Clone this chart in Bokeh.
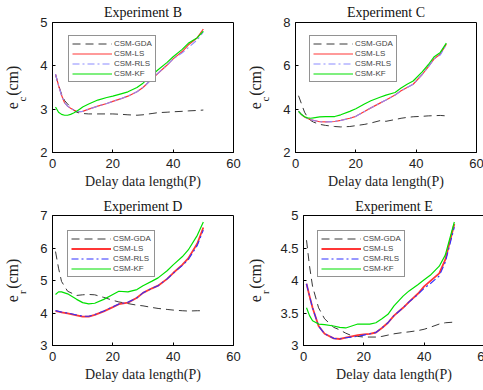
from bokeh.plotting import figure
from bokeh.layouts import row, column
from bokeh.models import Legend, LegendItem, Range1d, FixedTicker, LinearAxis, Title
from bokeh.embed import file_html
from bokeh.resources import INLINE

SERIES = ["CSM-GDA", "CSM-LS", "CSM-RLS", "CSM-KF"]
X_TICKS = [0, 20, 40, 60]
X_LABEL = "Delay data length(P)"

# Experiment B
P_B = [1, 2, 3, 4, 5, 6, 7, 8, 9, 10, 12, 15, 18, 20, 23, 25, 28, 30, 33, 35, 38, 40, 43, 45, 48, 50]
GDA_B = [3.80, 3.55, 3.35, 3.20, 3.12, 3.05, 2.98, 2.93, 2.91, 2.90, 2.89, 2.89, 2.89, 2.89, 2.88, 2.87, 2.86, 2.87, 2.90, 2.92, 2.93, 2.94, 2.95, 2.96, 2.97, 2.98]
LS_B = [3.81, 3.55, 3.32, 3.15, 3.07, 3.02, 2.98, 2.95, 2.94, 2.95, 3.00, 3.07, 3.13, 3.18, 3.25, 3.30, 3.40, 3.50, 3.70, 3.83, 4.02, 4.16, 4.33, 4.48, 4.65, 4.85]
RLS_B = [3.81, 3.55, 3.32, 3.15, 3.07, 3.02, 2.98, 2.95, 2.94, 2.95, 3.00, 3.07, 3.13, 3.18, 3.25, 3.30, 3.40, 3.50, 3.70, 3.83, 4.02, 4.16, 4.30, 4.42, 4.60, 4.78]
KF_B = [3.05, 2.93, 2.88, 2.86, 2.86, 2.88, 2.91, 2.95, 3.00, 3.05, 3.12, 3.21, 3.27, 3.30, 3.36, 3.40, 3.50, 3.60, 3.79, 3.91, 4.08, 4.21, 4.38, 4.52, 4.65, 4.80]

# Experiment C
P_C = [1, 2, 3, 4, 5, 6, 8, 10, 13, 15, 18, 20, 23, 25, 28, 30, 33, 35, 37, 39, 42, 44, 46, 48, 50]
GDA_C = [4.62, 4.24, 3.86, 3.62, 3.48, 3.40, 3.30, 3.25, 3.20, 3.18, 3.20, 3.24, 3.30, 3.36, 3.47, 3.44, 3.52, 3.58, 3.62, 3.65, 3.67, 3.69, 3.70, 3.71, 3.69]
LS_C = [3.91, 3.75, 3.64, 3.57, 3.52, 3.48, 3.42, 3.41, 3.43, 3.48, 3.58, 3.67, 3.90, 4.06, 4.28, 4.42, 4.65, 4.85, 5.00, 5.15, 5.60, 5.95, 6.33, 6.55, 7.00]
RLS_C = [3.91, 3.75, 3.64, 3.57, 3.52, 3.48, 3.42, 3.41, 3.43, 3.48, 3.58, 3.67, 3.90, 4.06, 4.28, 4.42, 4.65, 4.85, 5.00, 5.15, 5.60, 5.95, 6.33, 6.50, 6.98]
KF_C = [3.90, 3.75, 3.65, 3.60, 3.58, 3.60, 3.64, 3.66, 3.66, 3.74, 3.90, 4.02, 4.25, 4.39, 4.55, 4.65, 4.77, 4.98, 5.15, 5.30, 5.72, 6.05, 6.42, 6.62, 7.05]

# Experiment D
P_D = [1, 2, 3, 5, 8, 10, 12, 14, 17, 20, 22, 25, 28, 30, 33, 35, 38, 40, 43, 45, 48, 50]
GDA_D = [5.89, 5.38, 4.97, 4.67, 4.54, 4.56, 4.57, 4.56, 4.48, 4.39, 4.34, 4.29, 4.24, 4.22, 4.17, 4.14, 4.11, 4.09, 4.07, 4.06, 4.07, 4.07]
LS_D = [4.06, 4.04, 4.02, 3.99, 3.93, 3.89, 3.89, 3.94, 4.05, 4.18, 4.27, 4.32, 4.47, 4.62, 4.76, 4.84, 5.05, 5.23, 5.48, 5.68, 6.14, 6.63]
RLS_D = [4.08, 4.05, 4.03, 4.00, 3.94, 3.90, 3.90, 3.95, 4.06, 4.19, 4.28, 4.33, 4.47, 4.62, 4.76, 4.84, 5.05, 5.22, 5.46, 5.64, 6.08, 6.55]
KF_D = [4.57, 4.65, 4.65, 4.59, 4.42, 4.32, 4.28, 4.30, 4.42, 4.57, 4.67, 4.65, 4.72, 4.84, 4.98, 5.08, 5.30, 5.48, 5.73, 5.94, 6.39, 6.80]

# Experiment E
P_E = [1, 2, 3, 5, 7, 10, 12, 14, 16, 18, 20, 22, 24, 26, 28, 30, 33, 35, 38, 40, 42, 45, 47, 50]
GDA_E = [4.62, 4.22, 3.91, 3.58, 3.41, 3.28, 3.24, 3.19, 3.15, 3.14, 3.13, 3.13, 3.13, 3.14, 3.16, 3.18, 3.20, 3.21, 3.23, 3.25, 3.28, 3.33, 3.35, 3.36]
LS_E = [3.95, 3.76, 3.58, 3.30, 3.18, 3.11, 3.10, 3.12, 3.14, 3.16, 3.17, 3.18, 3.20, 3.27, 3.35, 3.46, 3.58, 3.67, 3.80, 3.91, 3.99, 4.11, 4.32, 4.87]
RLS_E = [3.95, 3.76, 3.58, 3.30, 3.18, 3.11, 3.10, 3.12, 3.13, 3.14, 3.16, 3.18, 3.20, 3.27, 3.35, 3.46, 3.58, 3.67, 3.79, 3.88, 3.95, 4.07, 4.28, 4.82]
KF_E = [3.58, 3.46, 3.38, 3.33, 3.32, 3.30, 3.28, 3.27, 3.30, 3.33, 3.33, 3.33, 3.35, 3.41, 3.48, 3.61, 3.76, 3.84, 3.94, 4.01, 4.08, 4.22, 4.39, 4.90]

SERIF = "Liberation Serif"
SANS = "Liberation Sans"
FRAME_W, FRAME_H = 181, 130


def panel(title, sub, x, gda, ls, rls, kf, y0, y1, yticks, ylabels, bl, br,
          bt, bb, title_standoff, sub_standoff, rls_color, ls_width, leg_x, leg_top):
    ttl = Title(text=title, text_font=SERIF, text_font_size="14px",
                text_font_style="normal", text_color="#111111",
                align="center", standoff=title_standoff)
    p = figure(frame_width=FRAME_W, frame_height=FRAME_H, title=ttl,
               x_range=Range1d(0, 60), y_range=Range1d(y0, y1),
               output_backend="svg", toolbar_location=None,
               min_border_left=bl, min_border_right=br,
               min_border_top=bt, min_border_bottom=bb)
    p.grid.visible = False
    p.outline_line_color = "black"
    p.outline_line_width = 1
    p.outline_line_alpha = 1
    p.background_fill_color = "white"
    p.border_fill_color = "white"

    for ax in (p.xaxis[0], p.yaxis[0]):
        ax.major_tick_in = 3
        ax.major_tick_out = 0
        ax.minor_tick_line_color = None
        ax.axis_line_color = "black"
        ax.major_tick_line_color = "black"
        ax.major_label_text_font = SANS
        ax.major_label_text_font_size = "13px"
        ax.major_label_text_color = "#222222"
    xa = p.xaxis[0]
    xa.ticker = FixedTicker(ticks=X_TICKS)
    xa.major_label_standoff = 6
    xa.axis_label = X_LABEL
    xa.axis_label_text_font = SERIF
    xa.axis_label_text_font_size = "14px"
    xa.axis_label_text_font_style = "normal"
    xa.axis_label_text_color = "#222222"
    xa.axis_label_standoff = 3
    ya = p.yaxis[0]
    ya.ticker = FixedTicker(ticks=yticks)
    ya.major_label_overrides = {t: l for t, l in zip(yticks, ylabels)}
    ya.major_label_standoff = 5

    # y label e_sub(cm): subscript drawn as the single tick label of an extra axis
    yc = round(y0 + (y1 - y0) * (0.5 - 11.6 / FRAME_H), 4)
    la = LinearAxis(ticker=FixedTicker(ticks=[yc]),
                    major_label_overrides={yc: sub},
                    major_label_orientation="vertical",
                    major_label_text_font=SERIF, major_label_text_font_size="11px",
                    major_label_text_color="#222222",
                    major_label_standoff=sub_standoff,
                    major_tick_line_color=None, minor_tick_line_color=None,
                    axis_line_color=None,
                    axis_label="e\u2009\u2009(cm)", axis_label_text_font=SERIF,
                    axis_label_text_font_size="16px", axis_label_text_font_style="normal",
                    axis_label_text_color="#222222", axis_label_standoff=-7)
    p.add_layout(la, "left")

    r_gda = p.line(x, gda, line_color="#383838", line_width=1, line_dash="8 5")
    r_ls = p.line(x, ls, line_color="#ff2020", line_width=ls_width, line_alpha=0.9)
    r_rls = p.line(x, rls, line_color=rls_color, line_width=1.1, line_dash="7 3 2 3")
    r_kf = p.line(x, kf, line_color="#00e000", line_width=1.2)

    leg = Legend(items=[LegendItem(label=SERIES[0], renderers=[r_gda]),
                        LegendItem(label=SERIES[1], renderers=[r_ls]),
                        LegendItem(label=SERIES[2], renderers=[r_rls]),
                        LegendItem(label=SERIES[3], renderers=[r_kf])],
                 location=(leg_x, FRAME_H - leg_top - 49),
                 label_text_font=SANS, label_text_font_size="8px",
                 label_height=9, glyph_height=9, glyph_width=40,
                 label_standoff=2, spacing=1, padding=3, margin=0,
                 border_line_color="#262626", border_line_width=1,
                 background_fill_color="white", background_fill_alpha=1)
    p.add_layout(leg, "center")
    return p


pB = panel("Experiment B", "c", P_B, GDA_B, LS_B, RLS_B, KF_B, 2, 5,
           [2, 3, 4, 5], ["2", "3", "4", "5"], 48, 10, 22, 42, 5, 3, "#8c8cff", 1.2, 16, 11)
pC = panel("Experiment C", "c", P_C, GDA_C, LS_C, RLS_C, KF_C, 2, 8,
           [2, 4, 6, 8], ["2", "4", "6", "8"], 46, 16, 22, 42, 5, 3, "#8c8cff", 1.2, 14, 11)
pD = panel("Experiment D", "r", P_D, GDA_D, LS_D, RLS_D, KF_D, 3, 7,
           [3, 4, 5, 6, 7], ["3", "4", "5", "6", "7"], 48, 10, 20, 45, 4, 3, "#3030ff", 1.8, 15, 13)
pE = panel("Experiment E", "r", P_E, GDA_E, LS_E, RLS_E, KF_E, 3, 5,
           [3, 3.5, 4, 4.5, 5], ["3", "3.5", "4", "4.5", "5"], 46, 16, 20, 45, 4, 0, "#3030ff", 1.8, 14, 13)

layout = column(row(pB, pC), row(pD, pE))

open("out.html", "w").write(file_html(layout, INLINE))
